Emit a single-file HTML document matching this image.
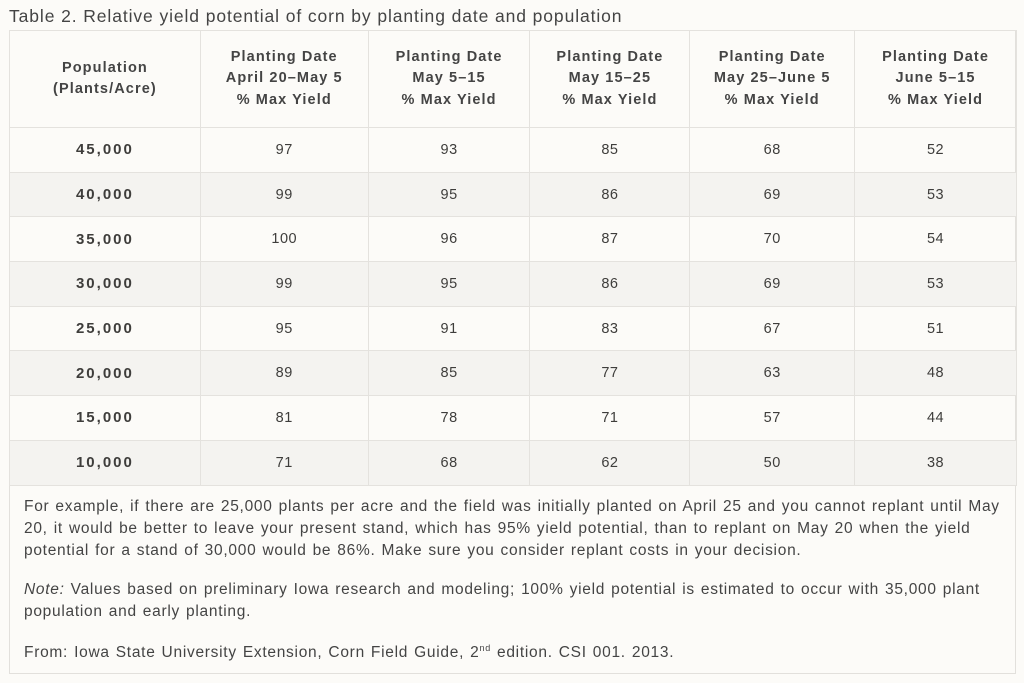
<!DOCTYPE html>
<html><head><style>
body{margin:0;width:1024px;height:683px;background:#fcfbf8;font-family:"Liberation Sans",sans-serif;color:#3e3d3b;position:relative;overflow:hidden}
.title{position:absolute;left:9px;top:6px;font-size:17.5px;color:#444;letter-spacing:0.9px}
.box{position:absolute;left:9px;top:30px;width:1007px;height:644px;border:1px solid #e2e0dc;box-sizing:border-box}
table{position:absolute;left:9px;top:30px;border-collapse:collapse;width:1008px}
td,th{border:1px solid #e4e2de;text-align:center;font-size:14.5px;padding:0}
th{height:96px;font-weight:bold;line-height:21.5px;color:#444;letter-spacing:1.1px}
td{height:43.7px;letter-spacing:0.5px}
td:first-child{font-weight:bold;letter-spacing:2px;font-size:15px}
tr.s td{background:#f4f3f0}
.p{position:absolute;left:24px;font-size:15.5px;line-height:22px;color:#444;white-space:nowrap;letter-spacing:0.72px;word-spacing:1px}
</style></head><body>
<div class="title">Table 2. Relative yield potential of corn by planting date and population</div>
<div class="box"></div>
<table>
<colgroup><col style="width:191px"><col style="width:168px"><col style="width:162px"><col style="width:160px"><col style="width:165px"><col style="width:162px"></colgroup>
<tr><th>Population<br>(Plants/Acre)</th><th>Planting Date<br>April 20–May 5<br>% Max Yield</th><th>Planting Date<br>May 5–15<br>% Max Yield</th><th>Planting Date<br>May 15–25<br>% Max Yield</th><th>Planting Date<br>May 25–June 5<br>% Max Yield</th><th>Planting Date<br>June 5–15<br>% Max Yield</th></tr>
<tr><td>45,000</td><td>97</td><td>93</td><td>85</td><td>68</td><td>52</td></tr>
<tr class="s"><td>40,000</td><td>99</td><td>95</td><td>86</td><td>69</td><td>53</td></tr>
<tr><td>35,000</td><td>100</td><td>96</td><td>87</td><td>70</td><td>54</td></tr>
<tr class="s"><td>30,000</td><td>99</td><td>95</td><td>86</td><td>69</td><td>53</td></tr>
<tr><td>25,000</td><td>95</td><td>91</td><td>83</td><td>67</td><td>51</td></tr>
<tr class="s"><td>20,000</td><td>89</td><td>85</td><td>77</td><td>63</td><td>48</td></tr>
<tr><td>15,000</td><td>81</td><td>78</td><td>71</td><td>57</td><td>44</td></tr>
<tr class="s"><td>10,000</td><td>71</td><td>68</td><td>62</td><td>50</td><td>38</td></tr>
</table>
<div class="p" style="top:496px">For example, if there are 25,000 plants per acre and the field was initially planted on April 25 and you cannot replant until May<br>20, it would be better to leave your present stand, which has 95% yield potential, than to replant on May 20 when the yield<br>potential for a stand of 30,000 would be 86%. Make sure you consider replant costs in your decision.</div>
<div class="p" style="top:579px"><i>Note:</i> Values based on preliminary Iowa research and modeling; 100% yield potential is estimated to occur with 35,000 plant<br>population and early planting.</div>
<div class="p" style="top:637px">From: Iowa State University Extension, Corn Field Guide, 2<sup style="font-size:9px">nd</sup> edition. CSI 001. 2013.</div>
</body></html>
